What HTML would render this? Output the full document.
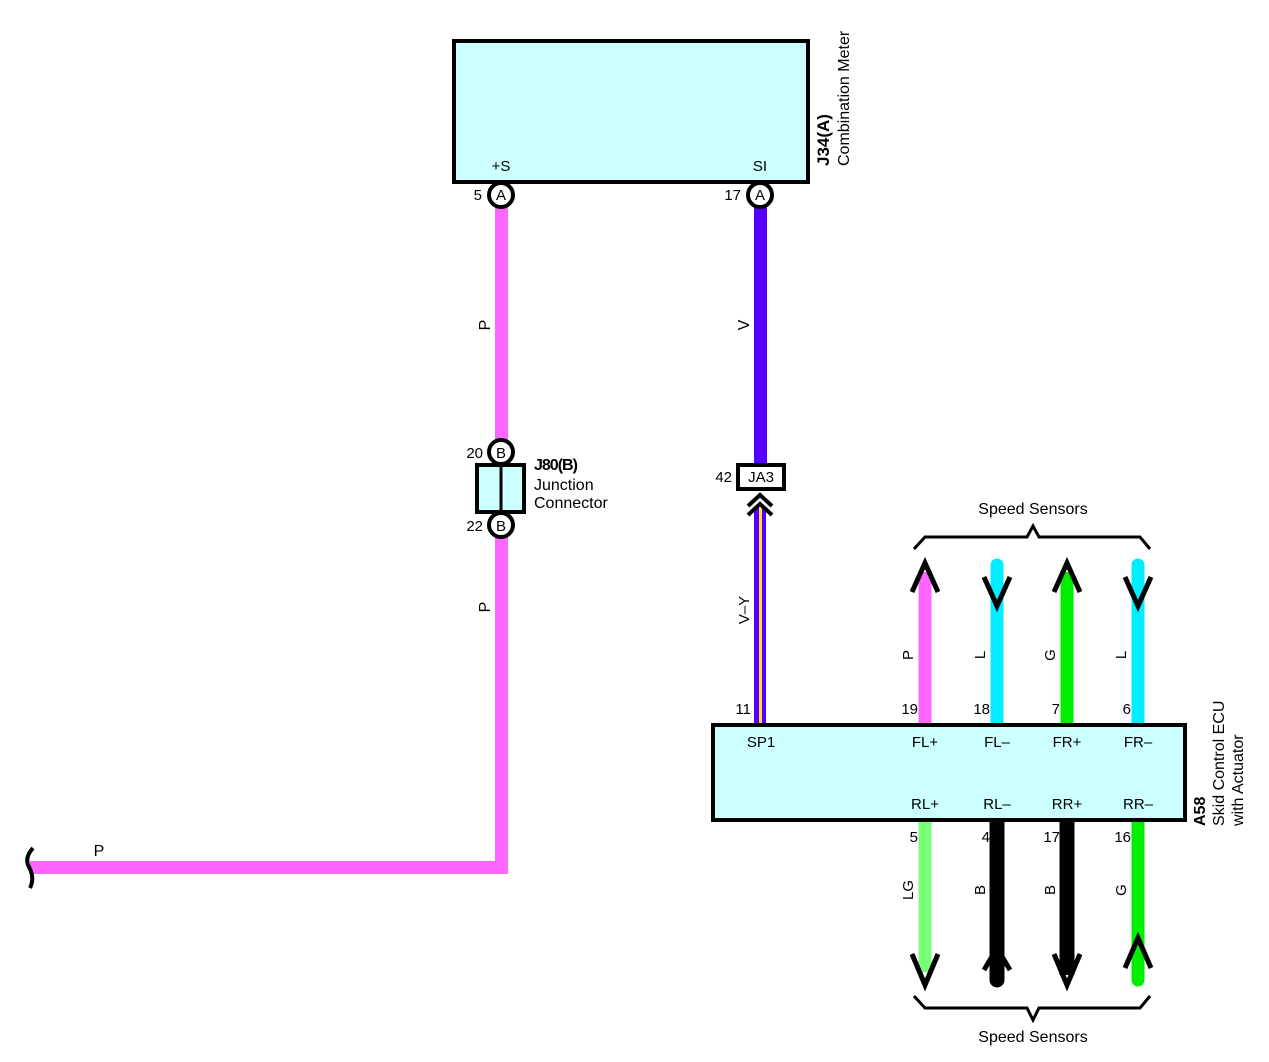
<!DOCTYPE html>
<html><head><meta charset="utf-8"><style>
html,body{margin:0;padding:0;background:#fff;}
svg{display:block;font-family:"Liberation Sans",sans-serif;}
</style></head><body>
<svg width="1269" height="1062" viewBox="0 0 1269 1062" xmlns="http://www.w3.org/2000/svg">
<rect x="454" y="41" width="354" height="141" fill="#ccffff" stroke="#000" stroke-width="4"/>
<text x="501" y="171" font-size="15" text-anchor="middle">+S</text>
<text x="760" y="171" font-size="15" text-anchor="middle">SI</text>
<text transform="translate(829,166) rotate(-90)" font-size="17" font-weight="bold">J34(A)</text>
<text transform="translate(849,166) rotate(-90)" font-size="16">Combination Meter</text>

<rect x="495" y="205" width="13" height="240" fill="#ff66ff"/>
<rect x="495" y="535" width="13" height="333" fill="#ff66ff"/>
<rect x="30" y="861" width="478" height="13" fill="#ff66ff"/>
<path d="M33,848 Q24,858 29,867 Q35,878 30,888" fill="none" stroke="#000" stroke-width="4"/>
<text x="99" y="856" font-size="16" text-anchor="middle">P</text>
<text transform="translate(490,325) rotate(-90)" font-size="16" text-anchor="middle">P</text>
<text transform="translate(490,607) rotate(-90)" font-size="16" text-anchor="middle">P</text>

<rect x="754" y="205" width="13" height="262" fill="#5500ff"/>
<text transform="translate(749,325) rotate(-90)" font-size="16" text-anchor="middle">V</text>

<circle cx="501" cy="195" r="12" fill="#fff" stroke="#000" stroke-width="4"/>
<text x="501" y="200" font-size="15" text-anchor="middle">A</text>
<text x="482" y="200" font-size="15" text-anchor="end">5</text>
<circle cx="760" cy="195" r="12" fill="#fff" stroke="#000" stroke-width="4"/>
<text x="760" y="200" font-size="15" text-anchor="middle">A</text>
<text x="741" y="200" font-size="15" text-anchor="end">17</text>

<rect x="477" y="465" width="47" height="47" fill="#ccffff" stroke="#000" stroke-width="4"/>
<line x1="501" y1="465" x2="501" y2="512" stroke="#000" stroke-width="3"/>
<circle cx="501" cy="452" r="12" fill="#fff" stroke="#000" stroke-width="4"/>
<text x="501" y="458" font-size="15" text-anchor="middle">B</text>
<text x="483" y="458" font-size="15" text-anchor="end">20</text>
<circle cx="501" cy="525" r="12" fill="#fff" stroke="#000" stroke-width="4"/>
<text x="501" y="531" font-size="15" text-anchor="middle">B</text>
<text x="483" y="531" font-size="15" text-anchor="end">22</text>
<text x="534" y="470" font-size="16" font-weight="bold" letter-spacing="-1">J80(B)</text>
<text x="534" y="490" font-size="16">Junction</text>
<text x="534" y="508" font-size="16">Connector</text>

<rect x="738" y="465" width="46" height="24" fill="#fff" stroke="#000" stroke-width="4"/>
<text x="761" y="482" font-size="15" text-anchor="middle">JA3</text>
<text x="732" y="482" font-size="15" text-anchor="end">42</text>
<rect x="754" y="508" width="12" height="218" fill="#5500ff"/>
<rect x="759" y="508" width="3" height="218" fill="#ffdd33"/>
<path d="M748,506 L760,495 L772,506 M748,515 L760,504 L772,515" fill="none" stroke="#000" stroke-width="4"/>
<text transform="translate(749,610) rotate(-90)" font-size="15" text-anchor="middle">V–Y</text>
<text x="751" y="714" font-size="15" text-anchor="end">11</text>

<g stroke-linecap="round">
<line x1="925" y1="572" x2="925" y2="726" stroke="#ff66ff" stroke-width="13" stroke-linecap="butt"/>
<line x1="997" y1="565" x2="997" y2="726" stroke="#00eeff" stroke-width="13"/>
<line x1="1067" y1="572" x2="1067" y2="726" stroke="#00ee00" stroke-width="13" stroke-linecap="butt"/>
<line x1="1138" y1="565" x2="1138" y2="726" stroke="#00eeff" stroke-width="13"/>
</g>
<g fill="none" stroke="#000" stroke-width="5">
<path d="M912,592 L925,563 L938,592"/>
<path d="M984,577 L997,606 L1010,577"/>
<path d="M1054,592 L1067,563 L1080,592"/>
<path d="M1125,577 L1138,606 L1151,577"/>
<path d="M914,549 L925,537 L1027,537 L1033,526 L1039,537 L1140,537 L1150,549" stroke-width="3"/>
<path d="M914,996 L925,1008 L1027,1008 L1033,1020 L1039,1008 L1140,1008 L1150,996" stroke-width="3"/>
</g>
<text x="1033" y="514" font-size="16" text-anchor="middle">Speed Sensors</text>
<text x="1033" y="1042" font-size="16" text-anchor="middle">Speed Sensors</text>
<g font-size="15">
<text transform="translate(913,655) rotate(-90)" text-anchor="middle">P</text>
<text transform="translate(985,655) rotate(-90)" text-anchor="middle">L</text>
<text transform="translate(1055,655) rotate(-90)" text-anchor="middle">G</text>
<text transform="translate(1126,655) rotate(-90)" text-anchor="middle">L</text>
<text x="918" y="714" text-anchor="end">19</text>
<text x="990" y="714" text-anchor="end">18</text>
<text x="1060" y="714" text-anchor="end">7</text>
<text x="1131" y="714" text-anchor="end">6</text>
</g>

<line x1="925" y1="818" x2="925" y2="972" stroke="#77ff77" stroke-width="13"/>
<line x1="997" y1="818" x2="997" y2="980" stroke="#000" stroke-width="15" stroke-linecap="round"/>
<line x1="1067" y1="818" x2="1067" y2="975" stroke="#000" stroke-width="15"/>
<line x1="1138" y1="818" x2="1138" y2="980" stroke="#00ee00" stroke-width="13" stroke-linecap="round"/>
<g fill="none" stroke="#000" stroke-width="5">
<path d="M912,954 L925,985 L938,954"/>
<path d="M984,970 L997,948 L1010,970"/>
<path d="M1054,954 L1067,985 L1080,954"/>
<path d="M1125,968 L1138,938 L1151,968"/>
</g>
<g font-size="15">
<text x="918" y="842" text-anchor="end">5</text>
<text x="990" y="842" text-anchor="end">4</text>
<text x="1060" y="842" text-anchor="end">17</text>
<text x="1131" y="842" text-anchor="end">16</text>
<text transform="translate(913,890) rotate(-90)" text-anchor="middle">LG</text>
<text transform="translate(985,890) rotate(-90)" text-anchor="middle">B</text>
<text transform="translate(1055,890) rotate(-90)" text-anchor="middle">B</text>
<text transform="translate(1126,890) rotate(-90)" text-anchor="middle">G</text>
</g>

<rect x="713" y="725" width="472" height="95" fill="#ccffff" stroke="#000" stroke-width="4"/>
<g font-size="15" text-anchor="middle">
<text x="761" y="747">SP1</text>
<text x="925" y="747">FL+</text>
<text x="997" y="747">FL–</text>
<text x="1067" y="747">FR+</text>
<text x="1138" y="747">FR–</text>
<text x="925" y="809">RL+</text>
<text x="997" y="809">RL–</text>
<text x="1067" y="809">RR+</text>
<text x="1138" y="809">RR–</text>
</g>
<text transform="translate(1205,826) rotate(-90)" font-size="16" font-weight="bold">A58</text>
<text transform="translate(1224,826) rotate(-90)" font-size="16">Skid Control ECU</text>
<text transform="translate(1243,826) rotate(-90)" font-size="16">with Actuator</text>
</svg>
</body></html>
